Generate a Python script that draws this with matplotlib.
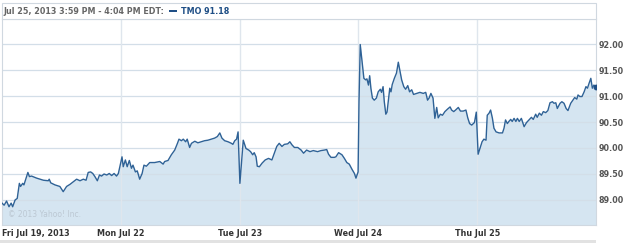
import numpy as np
import matplotlib
matplotlib.use("Agg")
import matplotlib.pyplot as plt
from matplotlib.patches import Rectangle

# minutes after the open, price (TMO, 5 sessions)
fri_min = [0, 7, 15, 23, 30, 35, 43, 50, 57, 61, 68, 72, 79, 85, 90, 97, 114, 136, 152, 155,
           160, 174, 190, 201, 212, 223, 234, 245, 256, 267, 276, 283, 291, 298, 305, 313,
           320, 327, 335, 344, 352, 360, 368, 376, 382]
fri_px = [88.94, 88.90, 88.98, 88.87, 88.94, 88.87, 89.00, 89.03, 89.32, 89.26, 89.32, 89.29,
          89.42, 89.53, 89.45, 89.46, 89.42, 89.38, 89.37, 89.40, 89.33, 89.29, 89.26, 89.16,
          89.26, 89.30, 89.35, 89.40, 89.37, 89.40, 89.38, 89.53, 89.54, 89.51, 89.45, 89.37,
          89.48, 89.46, 89.50, 89.48, 89.51, 89.47, 89.51, 89.46, 89.51]

mon_min = [4, 8, 15, 21, 28, 35, 40, 48, 54, 62, 70, 76, 84, 95, 111, 128, 139, 144, 155, 166,
           177, 186, 191, 199, 205, 213, 218, 226, 232, 243, 253, 264, 275, 286, 297, 308,
           317, 325, 332, 341, 352, 363, 368, 374, 380, 385]
mon_px = [89.83, 89.64, 89.77, 89.64, 89.76, 89.61, 89.67, 89.54, 89.56, 89.40, 89.51, 89.67,
          89.65, 89.72, 89.72, 89.74, 89.69, 89.74, 89.76, 89.87, 89.96, 90.09, 90.17, 90.14,
          90.17, 90.12, 90.17, 90.01, 90.09, 90.13, 90.10, 90.12, 90.14, 90.15, 90.17, 90.19,
          90.22, 90.29, 90.19, 90.14, 90.12, 90.09, 90.07, 90.14, 90.17, 90.31]

tue_min = [1, 12, 21, 30, 36, 43, 48, 54, 58, 65, 74, 84, 95, 106, 114, 122, 130, 139, 147,
           158, 165, 172, 180, 191, 202, 210, 220, 231, 242, 256, 267, 278, 286, 292, 300,
           311, 316, 325, 336, 344, 352, 360, 369, 377, 382, 389]
tue_px = [89.32, 90.15, 89.99, 89.96, 89.93, 89.87, 89.91, 89.83, 89.65, 89.64, 89.71, 89.77,
          89.80, 89.77, 89.90, 90.03, 90.09, 90.03, 90.07, 90.08, 90.12, 90.06, 90.01, 90.01,
          89.96, 89.90, 89.96, 89.93, 89.95, 89.93, 89.95, 89.96, 89.97, 89.88, 89.82, 89.82,
          89.83, 89.91, 89.87, 89.80, 89.72, 89.69, 89.59, 89.51, 89.42, 89.54]

wed_min = [2, 6, 13, 18, 24, 28, 33, 37, 41, 46, 52, 59, 65, 72, 76, 81, 85, 90, 94, 98, 103,
           107, 111, 118, 125, 131, 137, 142, 149, 155, 162, 168, 175, 181, 191, 202, 213,
           221, 227, 232, 238, 245, 251, 257, 262, 269, 276, 284, 293, 301, 306, 313, 319,
           328, 335, 344, 353, 359, 365, 372, 381, 387]
wed_px = [90.90, 91.99, 91.60, 91.34, 91.31, 91.33, 91.21, 91.39, 91.15, 90.96, 90.92, 90.96,
          91.08, 91.13, 91.07, 91.18, 90.89, 90.65, 90.69, 90.89, 91.15, 91.08, 91.22, 91.34,
          91.44, 91.65, 91.47, 91.31, 91.18, 91.13, 91.20, 91.08, 91.12, 91.03, 91.05, 91.07,
          91.05, 91.07, 90.92, 90.96, 91.05, 90.96, 90.57, 90.78, 90.58, 90.65, 90.63, 90.70,
          90.75, 90.79, 90.73, 90.70, 90.73, 90.78, 90.71, 90.71, 90.73, 90.58, 90.47, 90.44,
          90.49, 90.69]

thu_min = [3, 9, 16, 22, 29, 33, 39, 44, 50, 55, 62, 72, 83, 88, 93, 99, 104, 110, 115, 121,
           127, 132, 138, 145, 154, 162, 170, 178, 184, 192, 197, 204, 211, 217, 225, 232,
           239, 247, 252, 258, 263, 272, 278, 285, 292, 298, 307, 313, 320, 327, 331, 337,
           344, 351, 357, 362, 367, 373, 378, 383, 390]
thu_px = [89.88, 89.99, 90.12, 90.17, 90.15, 90.63, 90.67, 90.73, 90.57, 90.38, 90.31, 90.29,
          90.29, 90.38, 90.54, 90.47, 90.51, 90.55, 90.51, 90.57, 90.51, 90.57, 90.51, 90.57,
          90.41, 90.49, 90.54, 90.59, 90.55, 90.65, 90.59, 90.67, 90.63, 90.70, 90.68, 90.72,
          90.87, 90.89, 90.86, 90.87, 90.76, 90.86, 90.89, 90.86, 90.76, 90.72, 90.86, 90.91,
          90.97, 90.94, 91.02, 90.99, 90.99, 91.08, 91.18, 91.15, 91.24, 91.34, 91.15, 91.21,
          91.18]

day_labels = ["Fri Jul 19, 2013", "Mon Jul 22", "Tue Jul 23", "Wed Jul 24", "Thu Jul 25"]
y_ticks = [89.0, 89.5, 90.0, 90.5, 91.0, 91.5, 92.0]
header = "Jul 25, 2013 3:59 PM - 4:04 PM EDT:"
legend_txt = "TMO 91.18"

SESSION = 390.0
days = [(fri_min, fri_px), (mon_min, mon_px), (tue_min, tue_px), (wed_min, wed_px), (thu_min, thu_px)]
x = np.concatenate([i + np.array(m) / SESSION for i, (m, p) in enumerate(days)])
y = np.concatenate([np.array(p) for m, p in days])

W, H = 625, 243
fig = plt.figure(figsize=(W / 100, H / 100), dpi=100)
fig.patch.set_facecolor("white")

line_c = "#2f6296"
fill_c = "#d5e5f1"
grid_c = "#d3dee8"
bold = dict(fontfamily="DejaVu Sans", fontweight="bold")

ax = fig.add_axes([2 / W, 1 - 225 / H, 594 / W, 206 / H])
ax.set_facecolor("white")
ymin, ymax = 88.519, 92.481
ax.fill_between(x, y, ymin, color=fill_c, lw=0, zorder=1)
ax.plot(x, y, color=line_c, lw=1.0, zorder=3)
ax.plot(x[-1], y[-1], "o", color="#1f4f86", ms=3.2, zorder=4)
ax.set_xlim(0, 5)
ax.set_ylim(ymin, ymax)

for v in y_ticks:
    ax.axhline(v, color=grid_c, lw=0.9, zorder=2)
for d in range(1, 5):
    ax.axvline(d, color="#dfe6ed", lw=1.0, zorder=2)

ax.yaxis.tick_right()
ax.set_yticks(y_ticks)
ax.set_yticklabels(["%.2f" % v for v in y_ticks], color="#555555", fontsize=5.8, **bold)
ax.set_xticks(range(5))
ax.set_xticklabels(day_labels, color="#333333", fontsize=5.8, **bold)
ax.get_xticklabels()[0].set_ha("left")
ax.tick_params(axis="both", length=0)
ax.tick_params(axis="y", pad=2)
ax.tick_params(axis="x", pad=3)
for s in ax.spines.values():
    s.set_color("#d0d8e0")
    s.set_linewidth(0.8)

ax.text(0.01, 0.03, "\u00a9 2013 Yahoo! Inc.", transform=ax.transAxes, fontsize=5.5,
        color="#bcc8d3", ha="left", va="bottom", zorder=5)

# header strip
fig.patches.append(Rectangle((2 / W, 1 - 19 / H), 594 / W, 16 / H, transform=fig.transFigure,
                             facecolor="white", edgecolor="#d0d8e0", lw=0.8))
fig.text(3 / W, 1 - 11 / H, header, fontsize=5.8, color="#666666", va="center", **bold)
fig.patches.append(Rectangle((169 / W, 1 - 12.5 / H), 8 / W, 2.8 / H, transform=fig.transFigure,
                             facecolor="#1f4f86", edgecolor="none"))
fig.text(181 / W, 1 - 11 / H, legend_txt, fontsize=5.8, color="#1f4f86", va="center", **bold)

# light strip at the very bottom
fig.patches.append(Rectangle((0, 0), 596 / W, 3 / H, transform=fig.transFigure,
                             facecolor="#e2e2e2", edgecolor="none"))

fig.savefig("out.png", dpi=100)
